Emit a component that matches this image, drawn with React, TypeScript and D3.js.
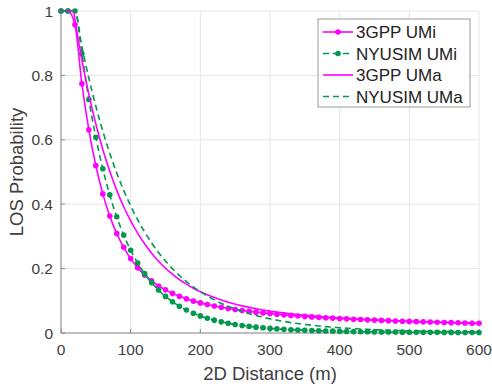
import React from 'react';
import * as d3 from 'd3';

// distances (m) for the marker series, every 10 m
const distUMi = d3.range(0, 601, 10);

const gppUMi = [
  1, 1, 0.957, 0.774, 0.631, 0.52, 0.432, 0.363, 0.309, 0.266, 0.231,
  0.203, 0.18, 0.162, 0.146, 0.134, 0.123, 0.114, 0.106, 0.099, 0.0935,
  0.0884, 0.0838, 0.0798, 0.0762, 0.0729, 0.0699, 0.0672, 0.0647, 0.0624, 0.0602,
  0.0583, 0.0564, 0.0546, 0.053, 0.0515, 0.05, 0.0486, 0.0474, 0.0462, 0.045,
  0.0439, 0.0429, 0.0419, 0.0409, 0.04, 0.0391, 0.0383, 0.0375, 0.0367, 0.036,
  0.0353, 0.0346, 0.034, 0.0333, 0.0327, 0.0321, 0.0316, 0.031, 0.0305, 0.03,
];

const nyuUMi = [
  1, 1, 1, 0.867, 0.725, 0.608, 0.51, 0.429, 0.361, 0.304, 0.257,
  0.2175, 0.1843, 0.1565, 0.1332, 0.1136, 0.0971, 0.0832, 0.0715, 0.0615, 0.0531,
  0.046, 0.0399, 0.0347, 0.0303, 0.0265, 0.0233, 0.0205, 0.0181, 0.0161, 0.0143,
  0.0127, 0.0114, 0.0102, 0.0092, 0.0083, 0.0075, 0.0068, 0.0062, 0.0057, 0.0052,
  0.0048, 0.0044, 0.0041, 0.0038, 0.0035, 0.0033, 0.0031, 0.0029, 0.0027, 0.0025,
  0.0024, 0.0023, 0.0021, 0.002, 0.0019, 0.0018, 0.0017, 0.0017, 0.0016, 0.0015,
];

// distances (m) for the plain line series
const distUMa = [
  0, 10, 18, 20, 30, 40, 50, 60, 70, 80, 90, 100, 110, 120, 130, 140, 150, 160, 170, 180, 190, 200,
  220, 240, 260, 280, 300, 320, 340, 360, 380, 400, 420, 440, 460, 480, 500, 520, 540, 560, 580, 600,
];

const gppUMa = [
  1, 1, 1, 0.973, 0.848, 0.742, 0.649, 0.57, 0.502, 0.443, 0.392, 0.348, 0.31, 0.277, 0.248, 0.223,
  0.201, 0.183, 0.166, 0.152, 0.139, 0.128,
  0.11, 0.0955, 0.0842, 0.0753, 0.068, 0.0621, 0.0572, 0.0531, 0.0497, 0.0467, 0.0441, 0.0418,
  0.0398, 0.038, 0.0364, 0.0349, 0.0335, 0.0322, 0.0311, 0.0301,
];

const nyuUMa = [
  1, 1, 1, 1, 0.889, 0.791, 0.704, 0.627, 0.558, 0.497, 0.443, 0.395, 0.352, 0.314, 0.28, 0.25,
  0.2235, 0.1997, 0.1786, 0.1598, 0.143, 0.1281,
  0.1029, 0.0828, 0.0669, 0.0542, 0.044, 0.0359, 0.0293, 0.0241, 0.0198, 0.0164, 0.0136, 0.0113,
  0.0095, 0.008, 0.0067, 0.0057, 0.0049, 0.0042, 0.0036, 0.0031,
];

const xTicks = [0, 100, 200, 300, 400, 500, 600];
const yTicks = [0, 0.2, 0.4, 0.6, 0.8, 1];

const MAGENTA = '#ff00ff';
const GREEN = '#00994d';
const AXIS = '#8a8a8a';
const TEXT = '#404040';
const FONT = 'Liberation Sans, Arial, Helvetica, sans-serif';

type Series = {
  name: string;
  xs: number[];
  ys: number[];
  color: string;
  dash?: string;
  marker: boolean;
};

const series: Series[] = [
  { name: '3GPP UMi', xs: distUMi, ys: gppUMi, color: MAGENTA, marker: true },
  { name: 'NYUSIM UMi', xs: distUMi, ys: nyuUMi, color: GREEN, dash: '6,4', marker: true },
  { name: '3GPP UMa', xs: distUMa, ys: gppUMa, color: MAGENTA, marker: false },
  { name: 'NYUSIM UMa', xs: distUMa, ys: nyuUMa, color: GREEN, dash: '6,4', marker: false },
];

export default function App() {
  const W = 492, H = 392;
  const left = 61, right = 479, top = 11, bottom = 333;

  const x = d3.scaleLinear().domain([0, 600]).range([left, right]);
  const y = d3.scaleLinear().domain([0, 1]).range([bottom, top]);

  const line = d3.line<[number, number]>()
    .x(d => x(d[0]))
    .y(d => y(d[1]))
    .curve(d3.curveMonotoneX);

  const legX = 318, legY = 19, legW = 152, legH = 88;
  const rowH = 21.5;

  return (
    <svg width={W} height={H} style={{ position: 'absolute', left: 0, top: 0, background: '#fff' }}
      fontFamily={FONT}>
      {/* grid */}
      {xTicks.map(t => (
        <line key={'gx' + t} x1={x(t)} x2={x(t)} y1={top} y2={bottom} stroke="#e6e6e6" strokeWidth={1} />
      ))}
      {yTicks.map(t => (
        <line key={'gy' + t} x1={left} x2={right} y1={y(t)} y2={y(t)} stroke="#e6e6e6" strokeWidth={1} />
      ))}

      {/* axes */}
      <line x1={left} x2={left} y1={top} y2={bottom} stroke={AXIS} />
      <line x1={left} x2={right} y1={bottom} y2={bottom} stroke={AXIS} />
      {xTicks.map(t => (
        <g key={'tx' + t}>
          <line x1={x(t)} x2={x(t)} y1={bottom} y2={bottom - 4} stroke={AXIS} />
          <text x={x(t)} y={bottom + 22} textAnchor="middle" fontSize={15.5} fill={TEXT}>{t}</text>
        </g>
      ))}
      {yTicks.map(t => (
        <g key={'ty' + t}>
          <line x1={left} x2={left + 4} y1={y(t)} y2={y(t)} stroke={AXIS} />
          <text x={53} y={y(t) + 5.5} textAnchor="end" fontSize={15.5} fill={TEXT}>{t}</text>
        </g>
      ))}
      <text x={(left + right) / 2} y={380} textAnchor="middle" fontSize={18.5} fill={TEXT}>2D Distance (m)</text>
      <text transform={`translate(23,${(top + bottom) / 2}) rotate(-90)`} textAnchor="middle" fontSize={18.5}
        fill={TEXT}>LOS Probability</text>

      {/* curves */}
      {series.map(s => {
        const pts = s.xs.map((d, i) => [d, s.ys[i]] as [number, number]);
        return (
          <g key={s.name}>
            <path d={line(pts) || ''} fill="none" stroke={s.color} strokeWidth={1.6}
              strokeDasharray={s.dash} />
            {s.marker && pts.map((p, i) => (
              <circle key={i} cx={x(p[0])} cy={y(p[1])} r={2.8} fill={s.color} />
            ))}
          </g>
        );
      })}

      {/* legend */}
      <rect x={legX} y={legY} width={legW} height={legH} fill="#fff" stroke="#9a9a9a" strokeWidth={1} />
      {series.map((s, i) => {
        const cy = legY + 13 + i * rowH;
        return (
          <g key={'leg' + s.name}>
            <line x1={legX + 5} x2={legX + 35} y1={cy} y2={cy} stroke={s.color} strokeWidth={1.6}
              strokeDasharray={s.dash} />
            {s.marker && <circle cx={legX + 20} cy={cy} r={2.8} fill={s.color} />}
            <text x={legX + 38} y={cy + 6} fontSize={17} fill="#222">{s.name}</text>
          </g>
        );
      })}
    </svg>
  );
}
